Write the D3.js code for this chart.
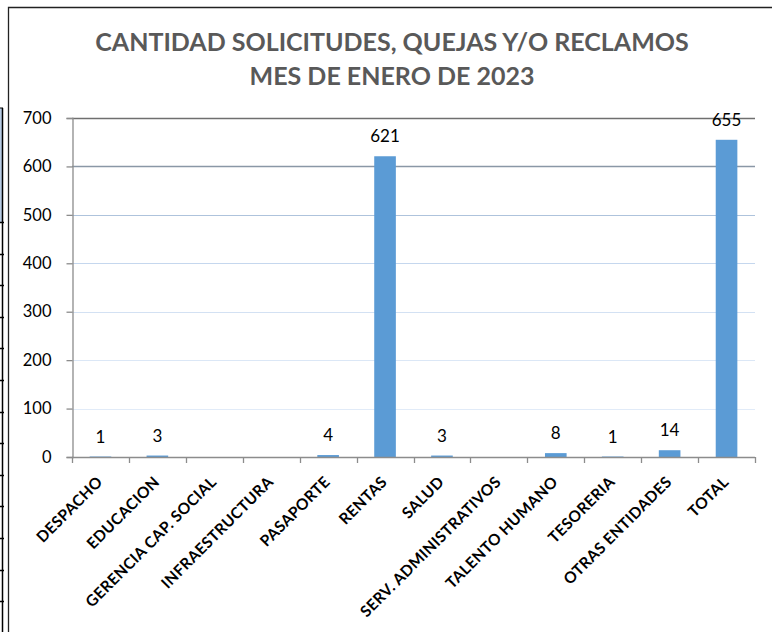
<!DOCTYPE html>
<html>
<head>
<meta charset="utf-8">
<script src="https://cdn.jsdelivr.net/npm/d3@7"></script>
<style>
  body { margin: 0; background: #fff; }
  svg text { font-family: Lato, "Open Sans", sans-serif; }
</style>
</head>
<body>
<div id="chart-container"></div>
<script>
(function() {
  'use strict';

const categories = ['DESPACHO', 'EDUCACION', 'GERENCIA CAP. SOCIAL', 'INFRAESTRUCTURA', 'PASAPORTE',
  'RENTAS', 'SALUD', 'SERV. ADMINISTRATIVOS', 'TALENTO HUMANO', 'TESORERIA', 'OTRAS ENTIDADES', 'TOTAL'];
const values = [1, 3, 0, 0, 4, 621, 3, 0, 8, 1, 14, 655];
const yTicks = [0, 100, 200, 300, 400, 500, 600, 700];
const titleLines = ['CANTIDAD SOLICITUDES, QUEJAS Y/O RECLAMOS', 'MES DE ENERO DE 2023'];

const chart = '#chart-container';
const W = 772;
const H = 632;
const LEFT = 72, RIGHT = 755, TOP = 118, BOTTOM = 457;

// gridline colours change from dark at top to pale blue at bottom (as in the excel render)
const gridColor = {700: '#6f6f6f', 600: '#8a97a6', 500: '#aec3dc', 400: '#c5d7ee', 300: '#d3e1f3', 200: '#dbe7f6', 100: '#e1ebf8'};

const dataset = categories.map((c, i) => ({cat: c, value: values[i]}));

const svg = d3.select(chart)
  .append('svg')
    .attr('width', W)
    .attr('height', H);

// bit of the spreadsheet table peeking in at the left edge
svg.append('rect')
  .attr('x', 0).attr('y', 108).attr('width', 3).attr('height', 114)
  .attr('fill', '#b8cce4');
svg.append('line')
  .attr('x1', 2.5).attr('x2', 2.5).attr('y1', 108).attr('y2', H)
  .attr('stroke', '#000').attr('stroke-width', 1.5);
svg.append('line')
  .attr('x1', 0).attr('x2', 3).attr('y1', 108).attr('y2', 108)
  .attr('stroke', '#000');
for (let y = 222; y < H; y += 31.6) {
  svg.append('line')
    .attr('x1', 0).attr('x2', 4).attr('y1', Math.round(y) + 0.5).attr('y2', Math.round(y) + 0.5)
    .attr('stroke', '#000').attr('stroke-width', 1.5);
}

// chart frame
svg.append('path')
  .attr('d', `M8.5,${H} L8.5,7.5 L${W},7.5`)
  .attr('fill', 'none')
  .attr('stroke', '#222')
  .attr('stroke-width', 1.3);

// title
svg.append('g')
  .selectAll('text')
  .data(titleLines)
  .enter()
  .append('text')
    .attr('x', 392)
    .attr('y', (d, i) => 51 + i * 34)
    .attr('text-anchor', 'middle')
    .attr('font-size', 25)
    .attr('font-weight', 'bold')
    .attr('fill', '#595959')
    .text(d => d);

const xScale = d3.scaleBand()
  .domain(categories)
  .range([LEFT, RIGHT])
  .padding(0);

const yScale = d3.scaleLinear()
  .domain([0, 700])
  .range([BOTTOM, TOP]);

// gridlines
svg.append('g')
  .selectAll('line')
  .data(yTicks.filter(d => d > 0))
  .enter()
  .append('line')
    .attr('x1', LEFT)
    .attr('x2', RIGHT)
    .attr('y1', d => Math.round(yScale(d)) + 0.5)
    .attr('y2', d => Math.round(yScale(d)) + 0.5)
    .attr('stroke', d => gridColor[d])
    .attr('stroke-width', d => d >= 600 ? 1.4 : 1);

// y axis
const yAxis = d3.axisLeft(yScale).tickValues(yTicks).tickSize(6).tickPadding(15);
svg.append('g')
  .attr('id', 'y-axis')
  .attr('transform', `translate(${LEFT + 0.5}, 0)`)
  .call(yAxis)
  .call(g => g.selectAll('path, line').attr('stroke', '#8c8c8c').attr('stroke-width', 1.3))
  .call(g => g.selectAll('text').attr('font-size', 16.5).attr('fill', '#000').attr('font-family', 'Lato, sans-serif'));

// bars
const barW = xScale.bandwidth() * 0.38;
svg.selectAll('rect.bar')
  .data(dataset)
  .enter()
  .append('rect')
    .attr('class', 'bar')
    .attr('x', d => xScale(d.cat) + xScale.bandwidth() / 2 - barW / 2)
    .attr('y', d => yScale(d.value))
    .attr('width', barW)
    .attr('height', d => BOTTOM - yScale(d.value))
    .attr('fill', '#5b9bd5');

// value labels (zero values have none)
svg.selectAll('text.val')
  .data(dataset.filter(d => d.value > 0))
  .enter()
  .append('text')
    .attr('class', 'val')
    .attr('x', d => xScale(d.cat) + xScale.bandwidth() / 2)
    .attr('y', d => yScale(d.value) - 14)
    .attr('text-anchor', 'middle')
    .attr('font-size', 17)
    .attr('fill', '#000')
    .text(d => d.value);

// x axis with ticks between categories
const xAxisG = svg.append('g').attr('id', 'x-axis');
xAxisG.append('line')
  .attr('x1', LEFT).attr('x2', RIGHT)
  .attr('y1', BOTTOM + 0.5).attr('y2', BOTTOM + 0.5)
  .attr('stroke', '#8c8c8c').attr('stroke-width', 1.3);
xAxisG.selectAll('line.tick')
  .data(categories.concat(['end']))
  .enter()
  .append('line')
    .attr('class', 'tick')
    .attr('x1', (d, i) => Math.round(LEFT + i * xScale.step()) + 0.5)
    .attr('x2', (d, i) => Math.round(LEFT + i * xScale.step()) + 0.5)
    .attr('y1', BOTTOM)
    .attr('y2', BOTTOM + 6)
    .attr('stroke', '#8c8c8c').attr('stroke-width', 1.3);

xAxisG.selectAll('text')
  .data(categories)
  .enter()
  .append('text')
    .attr('transform', d => `translate(${xScale(d) + xScale.bandwidth() / 2 + 3}, ${BOTTOM + 26}) rotate(-45)`)
    .attr('text-anchor', 'end')
    .attr('font-size', 15.5)
    .attr('letter-spacing', 0.3)
    .attr('font-weight', 'bold')
    .attr('fill', '#000')
    .text(d => d);

})()
</script>
</body>
</html>
